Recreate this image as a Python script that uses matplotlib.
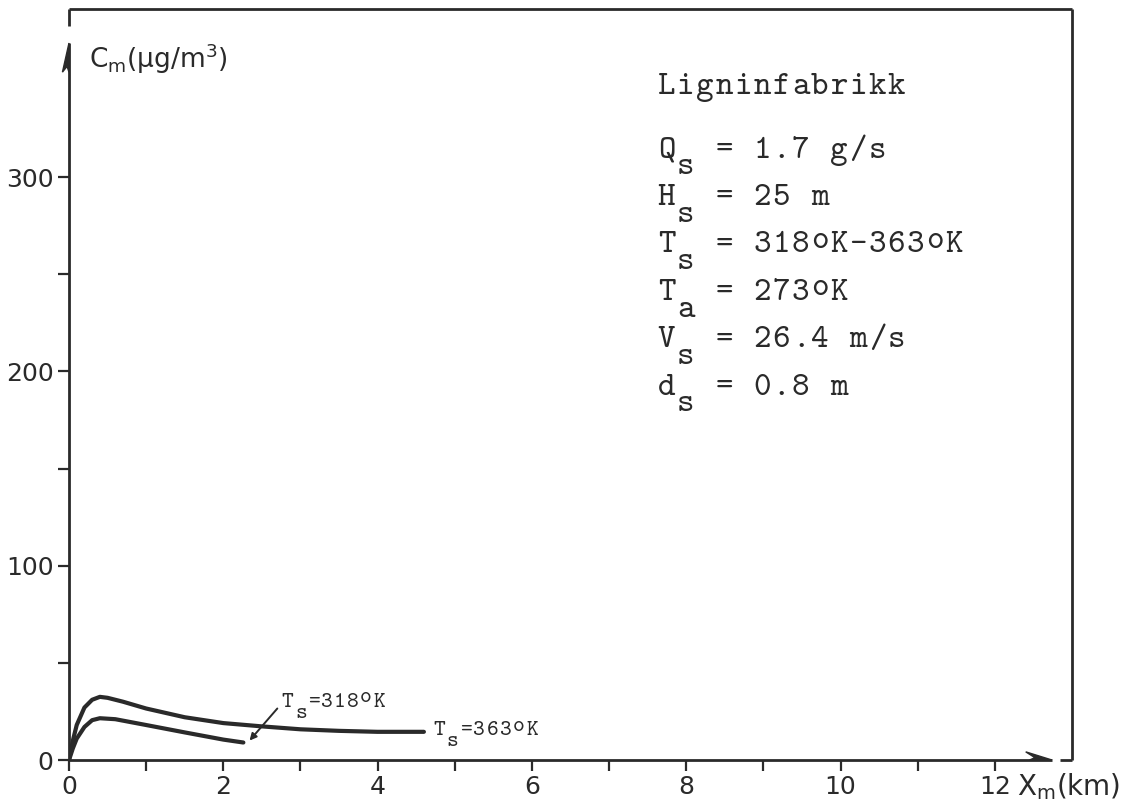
import numpy as np
import matplotlib
matplotlib.use('Agg')
import matplotlib.pyplot as plt
from matplotlib.transforms import offset_copy

# Maximum ground level concentration vs. distance, lignin plant
dist_363 = [0.0, 0.05, 0.1, 0.2, 0.3, 0.4, 0.5, 0.7, 1.0, 1.5, 2.0, 2.5, 3.0, 3.5, 4.0, 4.6]
conc_363 = [0.0, 10.0, 18.0, 27.0, 31.0, 32.5, 32.0, 30.0, 26.5, 22.0, 19.0, 17.3, 15.8, 15.0, 14.5, 14.5]

dist_318 = [0.0, 0.05, 0.1, 0.2, 0.3, 0.4, 0.6, 0.8, 1.0, 1.5, 2.0, 2.26]
conc_318 = [0.0, 6.0, 11.0, 17.0, 20.5, 21.5, 21.0, 19.5, 18.0, 14.2, 10.5, 9.0]

yticks_major = [0, 100, 200, 300]
yticks_minor = [50, 150, 250]
xticks_major = [0, 2, 4, 6, 8, 10, 12]
xticks_minor = [1, 3, 5, 7, 9, 11]

# typed parameter block, '_x' = lowered character, '^x' = raised character
title = 'Ligninfabrikk'
param_lines = [
    'Q_s = 1.7 g/s',
    'H_s = 25 m',
    'T_s = 318^oK-363^oK',
    'T_a = 273^oK',
    'V_s = 26.4 m/s',
    'd_s = 0.8 m',
]
label_318 = 'T_s=318^oK'
label_363 = 'T_s=363^oK'

XMAX = 13.0
YMAX = 386.5
INK = '#2a2a2a'
TYPE = 'cmtt10'  # typewriter face shipped with matplotlib


def typed(ax, x, y, s, size=24, pitch=13.8, sub_dy=-12, sup_dy=3.5):
    """Typewriter text: one character per column of width `pitch` (points),
    sub/superscripts are shifted vertically in place."""
    fig = ax.figure
    col = 0
    i = 0
    while i < len(s):
        c = s[i]
        shift = 0
        if c in '_^' and i + 1 < len(s):
            shift = sub_dy if c == '_' else sup_dy
            i += 1
            c = s[i]
        if c != ' ':
            tr = offset_copy(ax.transData, fig=fig, x=(col + 0.5) * pitch,
                             y=shift, units='points')
            ax.text(x, y, c, transform=tr, family=TYPE, fontsize=size,
                    color=INK, va='baseline', ha='center')
        col += 1
        i += 1


fig = plt.figure(figsize=(11.36, 8.0), dpi=100)
ax = fig.add_axes([69 / 1136, 40 / 800, (1072 - 69) / 1136, (760 - 9) / 800])
ax.set_xlim(0, XMAX)
ax.set_ylim(0, YMAX)

for sp in ax.spines.values():
    sp.set_visible(False)

ax.set_xticks(xticks_major)
ax.set_xticks(xticks_minor, minor=True)
ax.set_yticks(yticks_major)
ax.set_yticks(yticks_minor, minor=True)
ax.tick_params(which='both', direction='out', color=INK, width=1.6, length=8)
ax.tick_params(which='major', labelsize=18, labelcolor=INK)
ax.tick_params(axis='y', which='major', pad=3)
ax.tick_params(axis='x', which='major', pad=3)

# axes lines, frame and arrow heads
line_kw = dict(color=INK, lw=2.0, clip_on=False, solid_capstyle='butt')
ax.plot([0, 0], [0, 369], **line_kw)
ax.plot([0, 0], [378, YMAX], **line_kw)
ax.plot([0, XMAX], [YMAX, YMAX], **line_kw)
ax.plot([XMAX, XMAX], [0, YMAX], **line_kw)
ax.plot([12.85, XMAX], [0, 0], **line_kw)
ax.plot([0, 12.74], [0, 0], **line_kw)
ax.fill([0, -0.085, -0.025, 0], [369, 354, 357, 354], color=INK, clip_on=False)
ax.fill([12.74, 12.40, 12.52, 12.45], [0, 4.2, 1.2, 0], color=INK, clip_on=False)

ax.plot(dist_363, conc_363, color=INK, lw=3.0, solid_capstyle='round')
ax.plot(dist_318, conc_318, color=INK, lw=3.0, solid_capstyle='round')

# curve labels
typed(ax, 2.75, 27.5, label_318, size=16, pitch=9.4, sub_dy=-8, sup_dy=3)
ax.annotate('', xy=(2.34, 10.0), xytext=(2.70, 26.5),
            arrowprops=dict(arrowstyle='-|>', color=INK, lw=1.4,
                            mutation_scale=10, shrinkA=0, shrinkB=0))
typed(ax, 4.71, 13.0, label_363, size=16, pitch=9.6, sub_dy=-8, sup_dy=3)

# axis titles
ax.text(0.26, 361, r'C$_\mathregular{m}$($\mathregular{\mu}$g/m$^\mathregular{3}$)',
        fontsize=19, color=INK, va='center', ha='left')
ax.text(12.29, -13.5, r'X$_\mathregular{m}$(km)', fontsize=20, color=INK,
        va='center', ha='left', clip_on=False)

# parameter block
x0 = 7.62
typed(ax, x0, 343, title)
y0 = 310
for i, line in enumerate(param_lines):
    typed(ax, x0, y0 - i * 24.4, line)

fig.savefig('out.png', dpi=100, facecolor='white')
